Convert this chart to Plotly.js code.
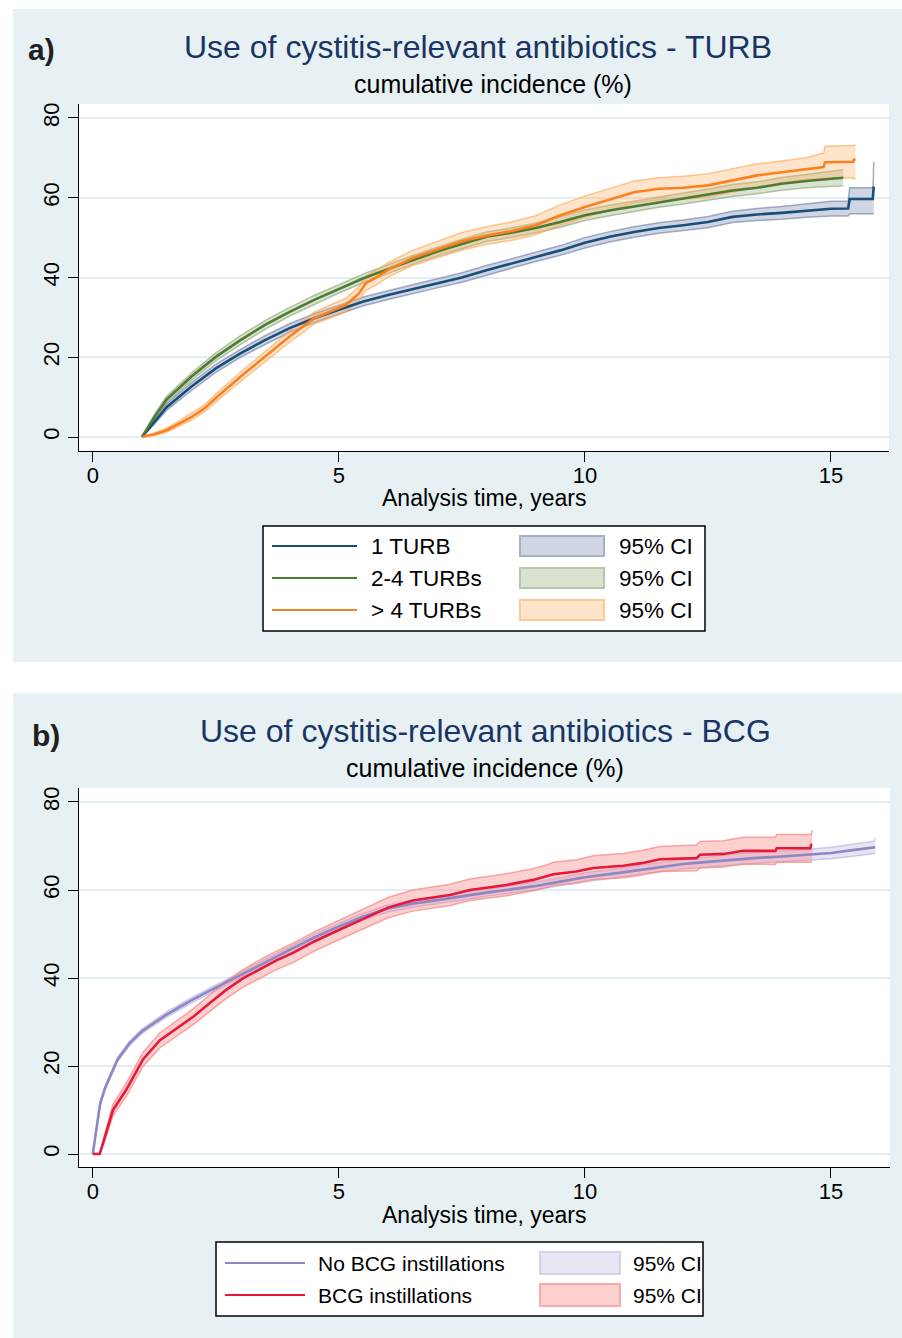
<!DOCTYPE html>
<html><head><meta charset="utf-8">
<script src="https://cdn.plot.ly/plotly-3.0.1.min.js"></script>
<style>html,body{margin:0;padding:0;background:#fff}#chart{width:902px;height:1338px}</style>
</head><body><div id="chart"></div>
<script>
// ---------- Panel a data (TURB groups) ----------
const tOne   = [1.0,1.25,1.5,2.0,2.5,3.0,3.5,4.0,4.5,5.0,5.5,6.0,6.5,7.0,7.5,8.0,8.5,9.0,9.5,10.0,10.5,11.0,11.5,12.0,12.5,13.0,13.5,14.0,14.5,15.0,15.35,15.38,15.85,15.86,15.87];
const estOne = [0,3.8,7.5,12.6,17.2,21.0,24.3,27.3,29.8,31.9,34.0,35.6,37.1,38.6,40.0,41.8,43.5,45.2,46.8,48.7,50.2,51.4,52.4,53.1,53.9,55.2,55.8,56.2,56.8,57.25,57.3,59.7,59.7,62.8,62.8];
const loOne  = [0,3.2,6.7,11.6,16.2,20.0,23.2,26.2,28.7,30.8,32.9,34.5,36.0,37.4,38.8,40.6,42.3,44.0,45.6,47.4,48.9,50.1,51.1,51.8,52.5,53.8,54.3,54.6,55.1,55.4,55.4,56.0,56.0,56.0,56.0];
const hiOne  = [0,4.4,8.3,13.6,18.2,22.0,25.4,28.4,30.9,33.0,35.1,36.7,38.2,39.8,41.2,43.0,44.7,46.4,48.0,50.0,51.5,52.7,53.7,54.4,55.3,56.6,57.3,57.8,58.5,59.1,59.2,62.5,62.5,64.0,69.0];

const tMid   = [1.0,1.25,1.5,2.0,2.5,3.0,3.5,4.0,4.5,5.0,5.5,6.0,6.5,7.0,7.5,8.0,8.5,9.0,9.5,10.0,10.5,11.0,11.5,12.0,12.5,13.0,13.5,14.0,14.5,15.0,15.25];
const estMid = [0,5.0,9.4,15.1,20.1,24.3,28.1,31.4,34.4,37.2,39.8,42.1,44.4,46.5,48.4,50.2,51.2,52.4,53.9,55.6,56.8,57.8,58.9,59.75,60.75,61.8,62.5,63.5,64.2,64.75,65.0];
const loMid  = [0,4.4,8.6,14.2,19.1,23.2,27.0,30.3,33.3,36.1,38.7,41.0,43.3,45.4,47.2,49.0,50.0,51.2,52.6,54.3,55.5,56.5,57.6,58.4,59.3,60.3,61.0,61.9,62.5,62.9,63.0];
const hiMid  = [0,5.6,10.2,16.0,21.1,25.4,29.2,32.5,35.5,38.3,40.9,43.2,45.5,47.6,49.6,51.4,52.4,53.6,55.2,56.9,58.1,59.1,60.2,61.1,62.2,63.3,64.0,65.1,65.9,66.6,67.0];

const tHigh   = [1.0,1.25,1.5,1.75,2.0,2.25,2.5,3.0,3.5,4.0,4.5,4.8,5.14,5.41,5.55,5.75,6.0,6.5,7.0,7.5,8.0,8.5,9.0,9.5,10.0,10.5,11.0,11.5,12.0,12.5,13.0,13.5,14.0,14.5,14.85,14.88,15.45,15.47,15.5];
const estHigh = [0,0.7,1.7,3.4,5.0,7.0,9.8,15.1,20.1,25.2,29.8,31.4,33.1,36.0,38.6,39.9,41.9,44.9,47.0,49.1,50.5,51.6,53.1,55.6,57.7,59.5,61.4,62.25,62.5,63.1,64.3,65.6,66.4,67.25,67.7,68.9,69.0,69.6,69.6];
const loHigh  = [0,0.4,1.2,2.7,4.2,6.1,8.8,13.9,18.8,23.8,28.3,29.8,31.4,34.3,36.8,38.1,40.1,43.0,45.0,46.9,48.3,49.3,50.7,53.1,55.1,56.9,58.6,59.5,59.6,60.2,61.4,62.7,63.8,64.6,65.0,64.9,65.0,64.7,64.7];
const hiHigh  = [0,1.0,2.2,4.1,5.8,7.9,10.8,16.3,21.4,26.6,31.3,33.0,34.8,37.7,40.4,41.7,43.7,46.8,49.0,51.3,52.7,53.9,55.5,58.2,60.4,62.3,64.2,65.0,65.4,66.0,67.2,68.5,69.2,70.0,71.2,72.9,73.1,73.2,73.2];

// ---------- Panel b data (BCG) ----------
const tNo   = [0,0.05,0.1,0.15,0.25,0.5,0.75,1.0,1.5,2.0,2.5,3.0,3.5,4.0,4.5,5.0,5.5,6.0,6.5,7.0,7.5,8.0,8.5,9.0,9.5,10.0,10.5,11.0,11.5,12.0,12.5,13.0,13.5,14.0,14.5,15.0,15.4,15.88,15.9];
const estNo = [0,4.0,8.5,11.5,15.0,21.4,25.2,27.9,31.7,34.9,37.8,40.6,43.5,46.4,49.2,51.7,54.0,55.8,56.9,57.7,58.6,59.4,60.15,60.9,61.9,62.9,63.6,64.4,65.2,65.9,66.4,66.9,67.3,67.6,67.95,68.4,69.0,69.7,69.7];
const loNo  = [0,3.7,8.1,11.1,14.6,20.9,24.7,27.4,31.1,34.3,37.2,40.0,42.8,45.7,48.5,51.0,53.3,55.0,56.1,56.9,57.8,58.6,59.3,60.0,61.0,61.9,62.6,63.4,64.1,64.8,65.3,65.7,66.1,66.4,66.7,67.1,67.6,68.3,68.3];
const hiNo  = [0,4.3,8.9,11.9,15.4,21.9,25.7,28.4,32.3,35.5,38.4,41.2,44.2,47.1,49.9,52.4,54.7,56.6,57.7,58.5,59.4,60.2,61.0,61.8,62.8,63.9,64.6,65.4,66.3,67.0,67.5,68.1,68.5,68.8,69.2,69.7,70.4,71.1,71.8];

const tBcg   = [0,0.14,0.25,0.41,0.68,1.02,1.36,1.7,2.04,2.38,2.71,3.05,3.39,3.73,4.07,4.5,5.0,5.5,6.0,6.5,7.0,7.26,7.66,8.41,8.95,9.22,9.36,9.83,10.17,10.78,11.15,11.53,12.27,12.34,12.82,13.22,13.87,13.9,14.58,14.6,14.62];
const estBcg = [0,0,4.0,10.0,14.6,21.5,25.8,28.5,31.2,34.3,37.3,39.9,42.0,44.0,45.7,48.3,50.9,53.5,56.0,57.6,58.4,58.85,60.0,61.15,62.3,63.05,63.6,64.2,65.0,65.5,66.1,67.0,67.25,68.0,68.2,68.9,68.9,69.5,69.5,70.3,70.3];
const loBcg  = [0,0,3.2,8.7,13.1,19.9,24.1,26.7,29.4,32.4,35.3,37.9,39.9,41.9,43.5,46.1,48.7,51.2,53.7,55.2,56.0,56.5,57.6,58.7,59.8,60.5,61.0,61.6,62.4,62.8,63.4,64.2,64.4,65.0,65.2,65.9,65.8,66.3,66.3,66.5,66.5];
const hiBcg  = [0,0,4.8,11.3,16.1,23.1,27.5,30.3,33.0,36.2,39.3,41.9,44.1,46.1,47.9,50.5,53.1,55.8,58.3,60.0,60.8,61.3,62.5,63.7,64.9,65.7,66.3,66.9,67.8,68.3,69.0,69.9,70.2,71.0,71.2,72.0,72.0,72.6,72.6,72.6,73.6];

// ---------- labels ----------
const xTicks = [0,5,10,15];
const yTicks = [0,20,40,60,80];
const legendA = ["1 TURB","2-4 TURBs","> 4 TURBs"];
const legendB = ["No BCG instillations","BCG instillations"];
const ciLabel = "95% CI";

// ---------- styles ----------
const FONT = "Liberation Sans, Arial, Helvetica, sans-serif";
const W = 902, H = 1338;
const px = x => x / W, py = y => 1 - y / H;
const sty = {
  one:  {line:"#1a4e79", fill:"rgba(118,135,172,0.35)", edge:"rgba(105,122,163,0.6)", box:"#cfd5e2", boxEdge:"#a5afc8"},
  mid:  {line:"#4d7b33", fill:"rgba(149,172,126,0.35)", edge:"rgba(138,160,112,0.6)", box:"#dae2d2", boxEdge:"#b9c6a9"},
  high: {line:"#fd801e", fill:"rgba(252,178,106,0.35)", edge:"rgba(252,165,82,0.6)",  box:"#fee4cb", boxEdge:"#fdc997"},
  no:   {line:"#8e86c6", fill:"rgba(192,186,224,0.38)", edge:"rgba(182,177,220,0.65)", box:"#e9e7f4", boxEdge:"#d3d0ea"},
  bcg:  {line:"#e5193c", fill:"rgba(250,137,137,0.4)",  edge:"rgba(246,132,128,0.7)", box:"#fdd0d0", boxEdge:"#f9a9a6"}
};

function ci(t, lo, hi, s, xa, ya) {
  return [
    {x:t, y:lo, type:"scatter", mode:"lines", line:{color:s.edge, width:1.5}, xaxis:xa, yaxis:ya, hoverinfo:"skip", showlegend:false},
    {x:t, y:hi, type:"scatter", mode:"lines", line:{color:s.edge, width:1.5}, fill:"tonexty", fillcolor:s.fill, xaxis:xa, yaxis:ya, hoverinfo:"skip", showlegend:false}
  ];
}
function est(t, v, s, xa, ya) {
  return {x:t, y:v, type:"scatter", mode:"lines", line:{color:s.line, width:2.6}, xaxis:xa, yaxis:ya, showlegend:false};
}

const data = [
  ...ci(tOne, loOne, hiOne, sty.one, "x", "y"),
  ...ci(tMid, loMid, hiMid, sty.mid, "x", "y"),
  ...ci(tHigh, loHigh, hiHigh, sty.high, "x", "y"),
  est(tOne, estOne, sty.one, "x", "y"),
  est(tMid, estMid, sty.mid, "x", "y"),
  est(tHigh, estHigh, sty.high, "x", "y"),
  ...ci(tNo, loNo, hiNo, sty.no, "x2", "y2"),
  ...ci(tBcg, loBcg, hiBcg, sty.bcg, "x2", "y2"),
  est(tNo, estNo, sty.no, "x2", "y2"),
  est(tBcg, estBcg, sty.bcg, "x2", "y2")
];

const bg = "#e7f1f4";
const grid = "#e3eef2";
const xAxisBase = {
  tickvals:xTicks, ticks:"outside", ticklen:10, tickwidth:1, tickcolor:"#000", ticklabelstandoff:-6,
  showline:true, linecolor:"#000", linewidth:1.2, showgrid:false, zeroline:false,
  tickfont:{family:FONT, size:22, color:"#000"}, fixedrange:true
};
const yAxisBase = {
  tickvals:yTicks, ticks:"outside", ticklen:10, tickwidth:1, tickcolor:"#000", tickangle:-90,
  showline:true, linecolor:"#000", linewidth:1.2, showgrid:true, gridcolor:grid, gridwidth:2, zeroline:false,
  tickfont:{family:FONT, size:22, color:"#000"}, fixedrange:true
};

const shapes = [
  {type:"rect", xref:"paper", yref:"paper", x0:px(13), x1:px(902), y0:py(662), y1:py(9), fillcolor:bg, line:{width:0}, layer:"below"},
  {type:"rect", xref:"paper", yref:"paper", x0:px(13), x1:px(902), y0:py(1338), y1:py(693), fillcolor:bg, line:{width:0}, layer:"below"},
  {type:"rect", xref:"x domain", yref:"y domain", x0:0, x1:1, y0:0, y1:1, fillcolor:"#fff", line:{width:0}, layer:"below"},
  {type:"rect", xref:"x2 domain", yref:"y2 domain", x0:0, x1:1, y0:0, y1:1, fillcolor:"#fff", line:{width:0}, layer:"below"}
];
const annotations = [];
function txt(text, x, y, size, opts) {
  annotations.push(Object.assign({text:text, xref:"paper", yref:"paper", x:px(x), y:py(y), showarrow:false,
    xanchor:"center", yanchor:"middle", font:{family:FONT, size:size, color:"#000"}}, opts || {}));
}
// titles
txt("Use of cystitis-relevant antibiotics - TURB", 478, 47, 32, {font:{family:FONT, size:32, color:"#1a3563"}});
txt("cumulative incidence (%)", 493, 84, 25);
txt("<b>a)</b>", 26, 50, 30, {xanchor:"left", font:{family:FONT, size:30, color:"#231f20"}});
txt("Analysis time, years", 484, 498, 23);
txt("Use of cystitis-relevant antibiotics - BCG", 485, 731, 32, {font:{family:FONT, size:32, color:"#1a3563"}});
txt("cumulative incidence (%)", 485, 768, 25);
txt("<b>b)</b>", 30, 735, 30, {xanchor:"left", font:{family:FONT, size:30, color:"#231f20"}});
txt("Analysis time, years", 484, 1215, 23);

// legends
function legend(box, rows, labels, styles, lx0, lx1, tx, bx0, bx1, bh, ctx, fs) {
  shapes.push({type:"rect", xref:"paper", yref:"paper", x0:px(box[0]), x1:px(box[1]), y0:py(box[3]), y1:py(box[2]),
    fillcolor:"#fff", line:{color:"#000", width:1.5}});
  rows.forEach((ry, i) => {
    const s = styles[i];
    shapes.push({type:"line", xref:"paper", yref:"paper", x0:px(lx0), x1:px(lx1), y0:py(ry), y1:py(ry), line:{color:s.line, width:2}});
    shapes.push({type:"rect", xref:"paper", yref:"paper", x0:px(bx0), x1:px(bx1), y0:py(ry + bh/2), y1:py(ry - bh/2),
      fillcolor:s.box, line:{color:s.boxEdge, width:2}});
    txt(labels[i], tx, ry, fs, {xanchor:"left"});
    txt(ciLabel, ctx, ry, fs, {xanchor:"left"});
  });
}
legend([263,705,526,631], [546,578,610], legendA, [sty.one, sty.mid, sty.high], 272, 357, 369, 520, 604, 20, 617, 22.5);
legend([216,703,1242,1316], [1263,1295], legendB, [sty.no, sty.bcg], 225, 305, 316, 540, 620, 22, 631, 21);

const layout = {
  width:W, height:H, margin:{l:0, r:0, t:0, b:0}, paper_bgcolor:"#fff", plot_bgcolor:"#fff",
  showlegend:false, font:{family:FONT},
  xaxis: Object.assign({}, xAxisBase, {domain:[px(79), px(889)], range:[-0.28, 16.18], anchor:"y"}),
  yaxis: Object.assign({}, yAxisBase, {domain:[py(451), py(104)], range:[-3.5, 83.5], anchor:"x"}),
  xaxis2: Object.assign({}, xAxisBase, {domain:[px(79), px(890)], range:[-0.28, 16.2], anchor:"y2"}),
  yaxis2: Object.assign({}, yAxisBase, {domain:[py(1167), py(788)], range:[-2.95, 83.18], anchor:"x2"}),
  shapes:shapes, annotations:annotations
};
Plotly.newPlot("chart", data, layout, {displayModeBar:false, staticPlot:true});
</script></body></html>
